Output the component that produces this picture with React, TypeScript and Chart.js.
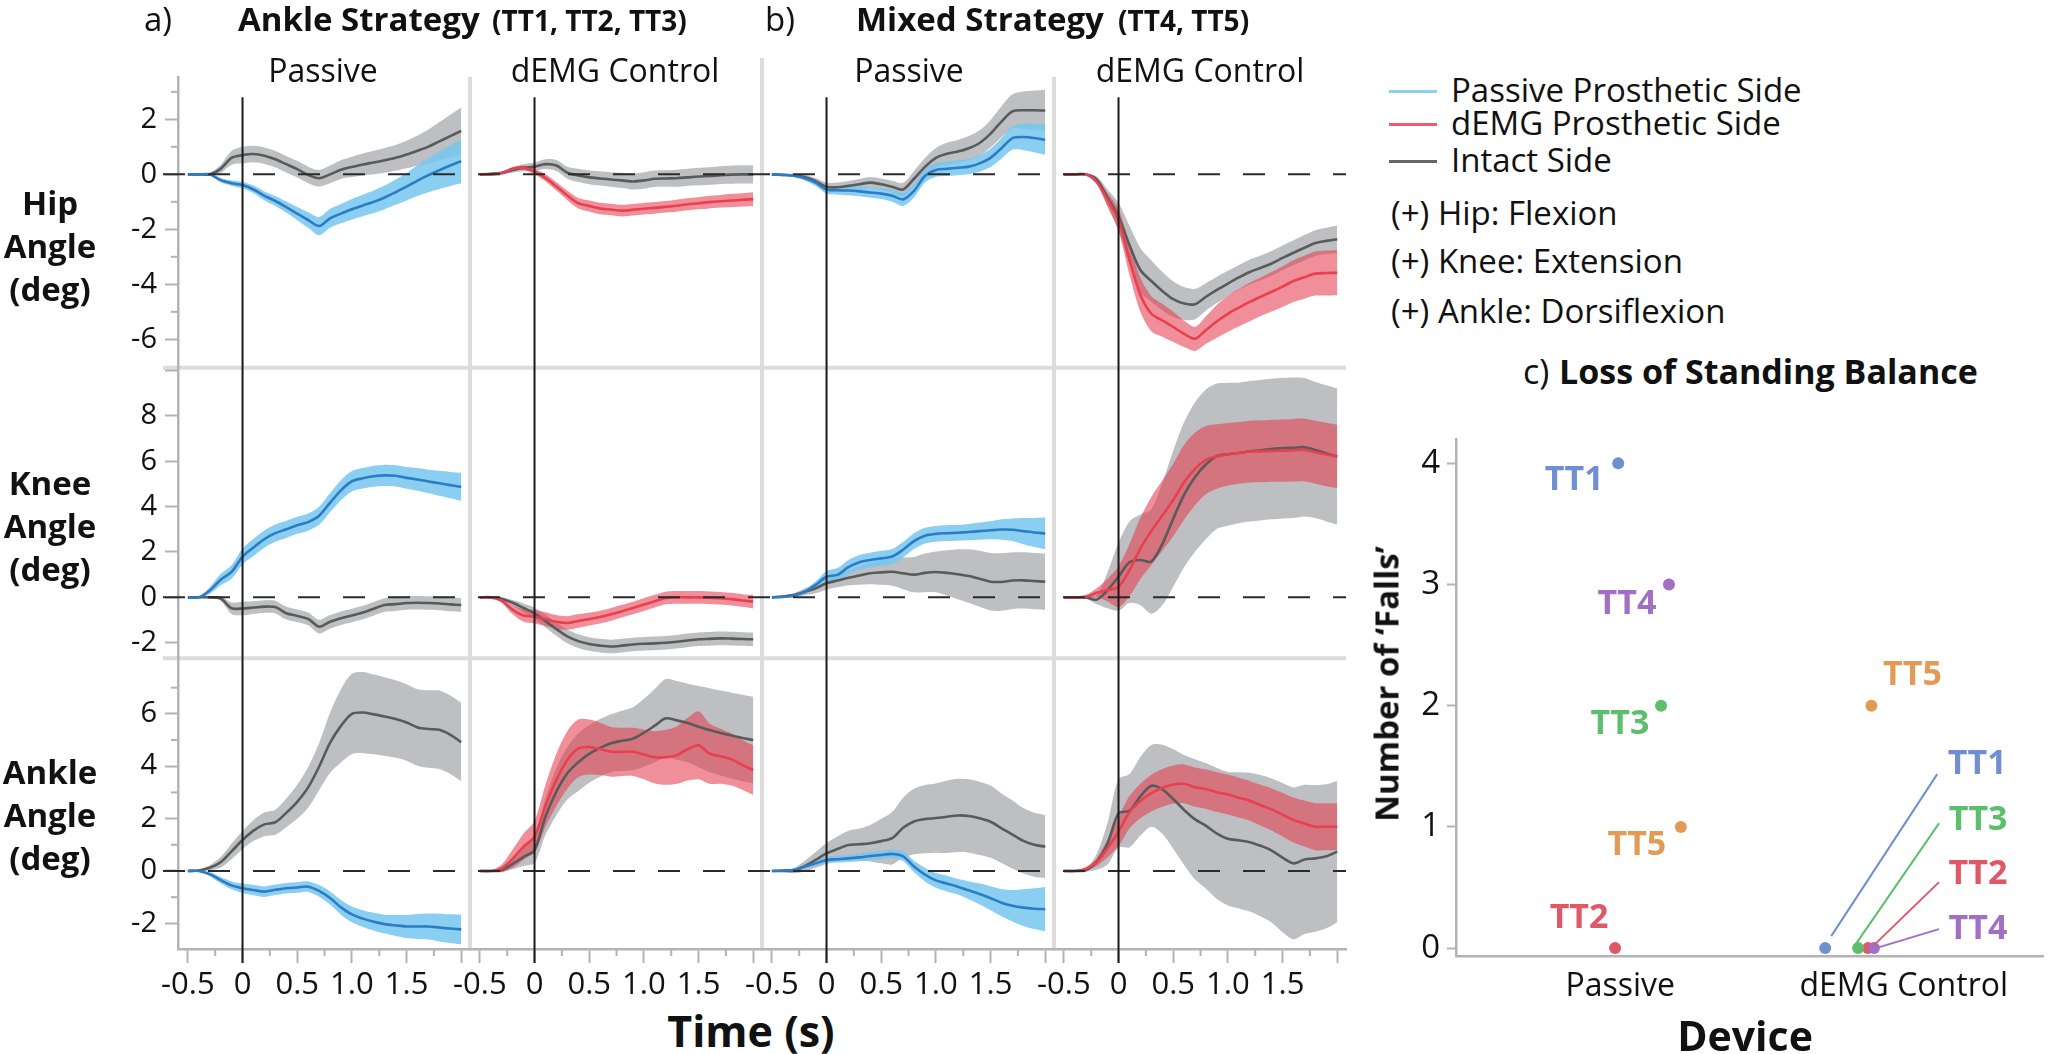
import React, { useEffect, useRef } from "react";
import { Chart, registerables } from "chart.js";

Chart.register(...registerables);

const FONT = "'Open Sans', 'Noto Sans', 'DejaVu Sans', sans-serif";

// ---------------- time grid & axis ticks ----------------
const TIME = [-0.5, -0.4, -0.3, -0.2, -0.1, 0, 0.1, 0.2, 0.3, 0.4, 0.5, 0.6, 0.7, 0.8, 0.9, 1.0, 1.1, 1.2, 1.3, 1.4, 1.5, 1.6, 1.7, 1.8, 1.9, 2.0];
const X_TICKS = [-0.5, -0.25, 0, 0.25, 0.5, 0.75, 1, 1.25, 1.5, 1.75, 2];
const X_TICK_LABELS = ["-0.5", "", "0", "", "0.5", "", "1.0", "", "1.5", "", ""];

const HIP_TICKS = [-6, -5, -4, -3, -2, -1, 0, 1, 2, 3];
const HIP_TICK_LABELS = ["-6", "", "-4", "", "-2", "", "0", "", "2", ""];
const KNEE_TICKS = [-2, 0, 2, 4, 6, 8, 10];
const KNEE_TICK_LABELS = ["-2", "0", "2", "4", "6", "8", ""];
const ANKLE_TICKS = [-2, -1, 0, 1, 2, 3, 4, 5, 6, 7];
const ANKLE_TICK_LABELS = ["-2", "", "0", "", "2", "", "4", "", "6", ""];

// ---------------- Hip ----------------
const HIP_AS_P_PROS = [0, 0, 0, -0.21, -0.32, -0.39, -0.55, -0.78, -0.97, -1.19, -1.43, -1.66, -1.88, -1.6, -1.43, -1.27, -1.13, -1.0, -0.84, -0.65, -0.45, -0.23, -0.03, 0.15, 0.32, 0.48];
const HIP_AS_P_PROS_SD = [0.02, 0.02, 0.03, 0.08, 0.1, 0.12, 0.14, 0.16, 0.18, 0.2, 0.24, 0.28, 0.33, 0.34, 0.35, 0.37, 0.39, 0.41, 0.43, 0.46, 0.5, 0.56, 0.62, 0.68, 0.74, 0.8];
const HIP_AS_P_INT = [0, 0, 0, 0.2, 0.6, 0.7, 0.74, 0.68, 0.55, 0.37, 0.19, -0.02, -0.14, 0, 0.17, 0.27, 0.36, 0.43, 0.51, 0.6, 0.72, 0.86, 1.01, 1.2, 1.39, 1.58];
const HIP_AS_P_INT_SD = [0.02, 0.02, 0.05, 0.15, 0.25, 0.3, 0.3, 0.3, 0.3, 0.3, 0.3, 0.3, 0.3, 0.32, 0.34, 0.37, 0.4, 0.43, 0.45, 0.47, 0.5, 0.55, 0.62, 0.7, 0.78, 0.85];

const HIP_AS_D_PROS = [0, 0, 0.05, 0.2, 0.24, 0.1, -0.13, -0.44, -0.77, -1.05, -1.15, -1.24, -1.28, -1.32, -1.29, -1.25, -1.22, -1.18, -1.14, -1.09, -1.05, -1.01, -0.98, -0.95, -0.93, -0.9];
const HIP_AS_D_PROS_SD = [0.02, 0.02, 0.04, 0.06, 0.08, 0.1, 0.13, 0.15, 0.17, 0.19, 0.2, 0.21, 0.21, 0.21, 0.21, 0.21, 0.21, 0.21, 0.22, 0.22, 0.22, 0.23, 0.23, 0.24, 0.24, 0.25];
const HIP_AS_D_INT = [0, 0.02, 0.05, 0.16, 0.24, 0.28, 0.37, 0.32, 0.06, -0.04, -0.11, -0.15, -0.19, -0.22, -0.26, -0.22, -0.16, -0.15, -0.14, -0.11, -0.08, -0.06, -0.03, -0.01, 0, 0];
const HIP_AS_D_INT_SD = [0.02, 0.04, 0.06, 0.1, 0.13, 0.15, 0.18, 0.2, 0.22, 0.24, 0.25, 0.26, 0.27, 0.28, 0.29, 0.3, 0.3, 0.3, 0.31, 0.31, 0.32, 0.32, 0.32, 0.33, 0.33, 0.33];

const HIP_MS_P_PROS = [0, -0.02, -0.05, -0.14, -0.3, -0.55, -0.58, -0.59, -0.62, -0.66, -0.7, -0.78, -0.91, -0.6, -0.06, 0.16, 0.2, 0.24, 0.28, 0.4, 0.6, 0.95, 1.32, 1.36, 1.32, 1.25];
const HIP_MS_P_PROS_SD = [0.02, 0.03, 0.05, 0.08, 0.12, 0.15, 0.16, 0.17, 0.18, 0.19, 0.2, 0.22, 0.24, 0.24, 0.24, 0.25, 0.26, 0.27, 0.28, 0.3, 0.33, 0.38, 0.43, 0.48, 0.52, 0.55];
const HIP_MS_P_INT = [0, -0.02, -0.04, -0.1, -0.25, -0.45, -0.47, -0.42, -0.36, -0.3, -0.36, -0.45, -0.55, -0.16, 0.27, 0.6, 0.75, 0.83, 0.95, 1.14, 1.48, 1.92, 2.29, 2.33, 2.33, 2.32];
const HIP_MS_P_INT_SD = [0.02, 0.03, 0.05, 0.08, 0.12, 0.15, 0.17, 0.18, 0.19, 0.2, 0.21, 0.22, 0.24, 0.28, 0.32, 0.36, 0.4, 0.42, 0.44, 0.46, 0.5, 0.56, 0.62, 0.68, 0.72, 0.75];

const HIP_MS_D_PROS = [0, 0, 0, -0.27, -0.93, -1.66, -3.1, -4.38, -5.07, -5.31, -5.55, -5.8, -5.98, -5.66, -5.34, -5.07, -4.85, -4.64, -4.45, -4.27, -4.08, -3.88, -3.74, -3.61, -3.59, -3.58];
const HIP_MS_D_PROS_SD = [0.02, 0.02, 0.03, 0.1, 0.25, 0.4, 0.55, 0.62, 0.64, 0.6, 0.55, 0.48, 0.44, 0.5, 0.6, 0.65, 0.68, 0.7, 0.7, 0.72, 0.74, 0.76, 0.78, 0.8, 0.82, 0.82];
const HIP_MS_D_INT = [0, 0, 0, -0.18, -0.85, -1.54, -2.57, -3.48, -3.88, -4.24, -4.54, -4.7, -4.72, -4.45, -4.2, -3.97, -3.75, -3.55, -3.4, -3.24, -3.04, -2.85, -2.67, -2.5, -2.42, -2.36];
const HIP_MS_D_INT_SD = [0.02, 0.02, 0.03, 0.1, 0.3, 0.5, 0.7, 0.8, 0.75, 0.7, 0.65, 0.6, 0.55, 0.5, 0.48, 0.46, 0.45, 0.45, 0.45, 0.45, 0.45, 0.45, 0.46, 0.47, 0.48, 0.5];

// ---------------- Knee ----------------
const KNEE_AS_P_PROS = [0, 0, 0.3, 0.78, 1.12, 1.8, 2.2, 2.57, 2.83, 3.0, 3.18, 3.32, 3.6, 4.17, 4.72, 5.12, 5.25, 5.34, 5.38, 5.36, 5.27, 5.2, 5.11, 5.03, 4.95, 4.87];
const KNEE_AS_P_PROS_SD = [0.02, 0.03, 0.15, 0.25, 0.3, 0.35, 0.38, 0.38, 0.38, 0.38, 0.38, 0.38, 0.4, 0.42, 0.44, 0.45, 0.45, 0.46, 0.47, 0.47, 0.48, 0.5, 0.52, 0.55, 0.58, 0.62];
const KNEE_AS_P_INT = [0, 0, 0, -0.05, -0.48, -0.49, -0.45, -0.41, -0.43, -0.7, -0.82, -0.95, -1.29, -1.08, -0.92, -0.8, -0.67, -0.5, -0.34, -0.3, -0.25, -0.24, -0.25, -0.27, -0.31, -0.34];
const KNEE_AS_P_INT_SD = [0.02, 0.02, 0.03, 0.1, 0.25, 0.3, 0.28, 0.28, 0.28, 0.28, 0.28, 0.28, 0.3, 0.3, 0.3, 0.3, 0.3, 0.3, 0.3, 0.3, 0.3, 0.3, 0.3, 0.3, 0.3, 0.3];

const KNEE_AS_D_PROS = [0, 0, -0.15, -0.55, -0.8, -0.85, -0.96, -1.08, -1.13, -1.04, -0.96, -0.87, -0.75, -0.61, -0.47, -0.32, -0.17, -0.03, 0, 0, 0, -0.02, -0.04, -0.08, -0.14, -0.19];
const KNEE_AS_D_PROS_SD = [0.02, 0.02, 0.1, 0.2, 0.28, 0.3, 0.3, 0.3, 0.3, 0.3, 0.28, 0.28, 0.28, 0.28, 0.28, 0.28, 0.28, 0.28, 0.28, 0.28, 0.28, 0.28, 0.28, 0.28, 0.28, 0.3];
const KNEE_AS_D_INT = [0, 0, -0.06, -0.24, -0.47, -0.71, -1.05, -1.4, -1.72, -1.93, -2.06, -2.13, -2.17, -2.13, -2.08, -2.05, -2.03, -2.0, -1.96, -1.9, -1.85, -1.83, -1.81, -1.82, -1.84, -1.85];
const KNEE_AS_D_INT_SD = [0.02, 0.02, 0.05, 0.12, 0.2, 0.25, 0.28, 0.3, 0.3, 0.3, 0.3, 0.3, 0.3, 0.3, 0.3, 0.3, 0.3, 0.3, 0.3, 0.3, 0.3, 0.3, 0.3, 0.3, 0.3, 0.3];

const KNEE_MS_P_PROS = [0, 0.02, 0.07, 0.25, 0.55, 0.91, 0.99, 1.33, 1.55, 1.65, 1.72, 1.8, 2.1, 2.48, 2.72, 2.8, 2.83, 2.85, 2.88, 2.92, 2.96, 2.99, 2.98, 2.92, 2.86, 2.82];
const KNEE_MS_P_PROS_SD = [0.02, 0.03, 0.05, 0.1, 0.15, 0.25, 0.3, 0.32, 0.32, 0.32, 0.33, 0.33, 0.34, 0.35, 0.35, 0.35, 0.35, 0.35, 0.36, 0.38, 0.4, 0.45, 0.5, 0.58, 0.64, 0.7];
const KNEE_MS_P_INT = [0, 0.04, 0.1, 0.24, 0.4, 0.62, 0.74, 0.86, 0.96, 1.06, 1.1, 1.13, 1.06, 1.0, 1.08, 1.12, 1.08, 1.02, 0.94, 0.82, 0.69, 0.68, 0.74, 0.75, 0.72, 0.69];
const KNEE_MS_P_INT_SD = [0.02, 0.04, 0.08, 0.15, 0.22, 0.28, 0.3, 0.33, 0.4, 0.48, 0.55, 0.62, 0.7, 0.78, 0.85, 0.9, 1.0, 1.1, 1.18, 1.24, 1.27, 1.27, 1.25, 1.24, 1.24, 1.24];

const KNEE_MS_D_PROS = [0, 0, 0.02, 0.2, 0.32, 0.47, 1.2, 2.16, 2.93, 3.6, 4.29, 5.08, 5.67, 6.06, 6.21, 6.31, 6.37, 6.43, 6.44, 6.46, 6.47, 6.49, 6.5, 6.4, 6.3, 6.21];
const KNEE_MS_D_PROS_SD = [0.02, 0.02, 0.08, 0.2, 0.5, 0.9, 1.15, 1.35, 1.5, 1.55, 1.6, 1.65, 1.6, 1.5, 1.42, 1.38, 1.36, 1.36, 1.36, 1.36, 1.37, 1.38, 1.38, 1.39, 1.4, 1.4];
const KNEE_MS_D_INT = [0, 0, 0, -0.1, 0.32, 0.91, 1.55, 1.65, 1.58, 2.35, 3.47, 4.53, 5.31, 5.87, 6.23, 6.31, 6.37, 6.44, 6.49, 6.54, 6.58, 6.6, 6.62, 6.5, 6.35, 6.21];
const KNEE_MS_D_INT_SD = [0.02, 0.02, 0.05, 0.2, 0.8, 1.5, 1.8, 2.0, 2.3, 2.7, 3.0, 3.2, 3.3, 3.3, 3.2, 3.15, 3.1, 3.1, 3.1, 3.1, 3.1, 3.1, 3.05, 3.0, 3.0, 3.0];

// ---------------- Ankle ----------------
const ANK_AS_P_PROS = [0, 0, -0.12, -0.35, -0.55, -0.66, -0.73, -0.79, -0.72, -0.66, -0.63, -0.6, -0.76, -1.03, -1.39, -1.66, -1.82, -1.94, -2.03, -2.08, -2.12, -2.12, -2.12, -2.16, -2.2, -2.23];
const ANK_AS_P_PROS_SD = [0.02, 0.03, 0.08, 0.12, 0.15, 0.18, 0.2, 0.2, 0.2, 0.2, 0.2, 0.2, 0.22, 0.25, 0.28, 0.3, 0.32, 0.34, 0.36, 0.4, 0.44, 0.48, 0.5, 0.53, 0.55, 0.57];
const ANK_AS_P_INT = [0, 0.02, 0.12, 0.33, 0.75, 1.18, 1.54, 1.78, 1.86, 2.22, 2.64, 3.19, 3.98, 4.89, 5.54, 6.0, 6.05, 5.98, 5.9, 5.8, 5.67, 5.48, 5.42, 5.39, 5.2, 4.92];
const ANK_AS_P_INT_SD = [0.02, 0.03, 0.1, 0.2, 0.3, 0.35, 0.4, 0.45, 0.48, 0.55, 0.65, 0.78, 0.9, 1.15, 1.4, 1.53, 1.55, 1.52, 1.5, 1.48, 1.46, 1.46, 1.48, 1.5, 1.5, 1.5];

const ANK_AS_D_PROS = [0, 0, 0.1, 0.47, 0.93, 1.31, 2.49, 3.48, 4.24, 4.68, 4.73, 4.66, 4.55, 4.55, 4.55, 4.45, 4.34, 4.34, 4.42, 4.65, 4.8, 4.48, 4.38, 4.26, 4.05, 3.85];
const ANK_AS_D_PROS_SD = [0.02, 0.02, 0.15, 0.35, 0.5, 0.6, 0.8, 1.0, 1.1, 1.1, 1.05, 1.0, 0.95, 0.92, 0.92, 0.95, 1.0, 1.05, 1.1, 1.2, 1.3, 1.15, 1.05, 1.0, 0.95, 0.95];
const ANK_AS_D_INT = [0, 0, 0.03, 0.27, 0.54, 0.8, 2.08, 3.03, 3.73, 4.15, 4.47, 4.7, 4.88, 4.97, 5.05, 5.28, 5.55, 5.83, 5.75, 5.65, 5.51, 5.38, 5.27, 5.17, 5.08, 5.0];
const ANK_AS_D_INT_SD = [0.02, 0.02, 0.05, 0.2, 0.35, 0.5, 0.7, 0.9, 1.0, 1.1, 1.1, 1.1, 1.1, 1.15, 1.2, 1.3, 1.4, 1.5, 1.5, 1.5, 1.55, 1.6, 1.62, 1.64, 1.65, 1.65];

const ANK_MS_P_PROS = [0, 0.02, 0.04, 0.17, 0.29, 0.42, 0.45, 0.48, 0.52, 0.57, 0.61, 0.65, 0.56, 0.17, -0.14, -0.36, -0.48, -0.6, -0.74, -0.88, -1.04, -1.21, -1.33, -1.4, -1.44, -1.46];
const ANK_MS_P_PROS_SD = [0.02, 0.03, 0.05, 0.08, 0.1, 0.12, 0.13, 0.14, 0.15, 0.15, 0.15, 0.16, 0.18, 0.22, 0.26, 0.28, 0.3, 0.3, 0.34, 0.4, 0.46, 0.52, 0.6, 0.7, 0.78, 0.85];
const ANK_MS_P_INT = [0, 0, 0.01, 0.18, 0.42, 0.67, 0.84, 0.99, 1.02, 1.06, 1.14, 1.25, 1.65, 1.89, 1.98, 2.02, 2.07, 2.12, 2.1, 2.01, 1.88, 1.63, 1.39, 1.15, 1.0, 0.93];
const ANK_MS_P_INT_SD = [0.02, 0.03, 0.1, 0.2, 0.3, 0.4, 0.48, 0.55, 0.6, 0.7, 0.85, 1.0, 1.15, 1.25, 1.3, 1.32, 1.38, 1.4, 1.4, 1.4, 1.38, 1.33, 1.3, 1.25, 1.22, 1.2];

const ANK_MS_D_PROS = [0, 0, 0.08, 0.34, 0.87, 1.5, 2.24, 2.67, 2.97, 3.17, 3.3, 3.33, 3.2, 3.12, 3.01, 2.92, 2.8, 2.68, 2.51, 2.35, 2.15, 1.95, 1.81, 1.69, 1.69, 1.69];
const ANK_MS_D_PROS_SD = [0.02, 0.02, 0.06, 0.15, 0.35, 0.55, 0.62, 0.66, 0.7, 0.72, 0.73, 0.74, 0.75, 0.75, 0.76, 0.76, 0.76, 0.76, 0.78, 0.8, 0.83, 0.86, 0.88, 0.9, 0.9, 0.9];
const ANK_MS_D_INT = [0, 0, 0.03, 0.35, 1.05, 2.2, 2.3, 2.85, 3.25, 3.12, 2.75, 2.33, 1.97, 1.72, 1.43, 1.23, 1.17, 1.1, 0.96, 0.78, 0.51, 0.29, 0.44, 0.48, 0.56, 0.74];
const ANK_MS_D_INT_SD = [0.02, 0.02, 0.05, 0.3, 0.8, 1.3, 1.4, 1.5, 1.56, 1.7, 1.9, 2.1, 2.3, 2.4, 2.5, 2.55, 2.6, 2.65, 2.7, 2.75, 2.85, 2.9, 2.85, 2.8, 2.75, 2.7];

// ---------------- Panel c: falls ----------------
const SUBJECTS = ["TT1", "TT2", "TT3", "TT4", "TT5"];
const DEVICES = ["Passive", "dEMG Control"];
const PASSIVE_FALLS = [4, 0, 2, 3, 1];
const DEMG_FALLS = [0, 0, 0, 0, 2];
const PASSIVE_JITTER = [-0.007, -0.018, 0.144, 0.172, 0.214];
const DEMG_JITTER = [0.723, 0.874, 0.839, 0.895, 0.886];

// ---------------- styles ----------------
const BLUE_LINE = "#2c7cc5";
const BLUE_BAND = "rgba(118,199,240,0.85)";
const RED_LINE = "#e8404f";
const RED_BAND = "rgba(230,62,80,0.58)";
const GREY_LINE = "#5a5a5a";
const GREY_BAND = "rgb(189,191,194)";
const AXIS = "#b3b3b3";
const SEP = "#dcdcdc";
const SUBJECT_COLORS = ["#6f8fd0", "#e05868", "#5cbf6b", "#a36fc2", "#e39a55"];

// label placement for panel c (pixel offsets from point)
const PASSIVE_LABEL_OFFSET = [[-44, 17], [-36, -30], [-41, 19], [-42, 20], [-44, 18]];
const DEMG_LABEL_OFFSET = [[152, -184], [110, -74], [120, -128], [104, -19], [41, -30]];
const DEMG_LEADER = [[[6, -12], [112, -174]], [[6, -3], [71, -66]], [[-3, -3], [81, -125]], [[2, 0], [65, -19]], null];

const COL_IDS = ["xa", "xb", "xc", "xd"];
const X_MIN = -0.59;
const X_MAX = 2.08;

const isHalfStep = (v: number) => Math.abs(v * 2 - Math.round(v * 2)) < 1e-9;
const isEven = (v: number) => Math.abs(v / 2 - Math.round(v / 2)) < 1e-9;

const ROWS = [
  { id: "yHip", min: -7.03, max: 3.54, ticks: HIP_TICKS, labels: HIP_TICK_LABELS, major: isEven, weight: 3 },
  { id: "yKnee", min: -2.69, max: 10.13, ticks: KNEE_TICKS, labels: KNEE_TICK_LABELS, major: (_v: number) => true, weight: 2 },
  { id: "yAnkle", min: -2.98, max: 8.12, ticks: ANKLE_TICKS, labels: ANKLE_TICK_LABELS, major: isEven, weight: 1 },
];

const PANELS = [
  { row: 0, col: 0, demg: false, pros: HIP_AS_P_PROS, prosSd: HIP_AS_P_PROS_SD, int: HIP_AS_P_INT, intSd: HIP_AS_P_INT_SD },
  { row: 0, col: 1, demg: true, pros: HIP_AS_D_PROS, prosSd: HIP_AS_D_PROS_SD, int: HIP_AS_D_INT, intSd: HIP_AS_D_INT_SD },
  { row: 0, col: 2, demg: false, pros: HIP_MS_P_PROS, prosSd: HIP_MS_P_PROS_SD, int: HIP_MS_P_INT, intSd: HIP_MS_P_INT_SD },
  { row: 0, col: 3, demg: true, pros: HIP_MS_D_PROS, prosSd: HIP_MS_D_PROS_SD, int: HIP_MS_D_INT, intSd: HIP_MS_D_INT_SD },
  { row: 1, col: 0, demg: false, pros: KNEE_AS_P_PROS, prosSd: KNEE_AS_P_PROS_SD, int: KNEE_AS_P_INT, intSd: KNEE_AS_P_INT_SD },
  { row: 1, col: 1, demg: true, pros: KNEE_AS_D_PROS, prosSd: KNEE_AS_D_PROS_SD, int: KNEE_AS_D_INT, intSd: KNEE_AS_D_INT_SD },
  { row: 1, col: 2, demg: false, pros: KNEE_MS_P_PROS, prosSd: KNEE_MS_P_PROS_SD, int: KNEE_MS_P_INT, intSd: KNEE_MS_P_INT_SD },
  { row: 1, col: 3, demg: true, pros: KNEE_MS_D_PROS, prosSd: KNEE_MS_D_PROS_SD, int: KNEE_MS_D_INT, intSd: KNEE_MS_D_INT_SD },
  { row: 2, col: 0, demg: false, pros: ANK_AS_P_PROS, prosSd: ANK_AS_P_PROS_SD, int: ANK_AS_P_INT, intSd: ANK_AS_P_INT_SD },
  { row: 2, col: 1, demg: true, pros: ANK_AS_D_PROS, prosSd: ANK_AS_D_PROS_SD, int: ANK_AS_D_INT, intSd: ANK_AS_D_INT_SD },
  { row: 2, col: 2, demg: false, pros: ANK_MS_P_PROS, prosSd: ANK_MS_P_PROS_SD, int: ANK_MS_P_INT, intSd: ANK_MS_P_INT_SD },
  { row: 2, col: 3, demg: true, pros: ANK_MS_D_PROS, prosSd: ANK_MS_D_PROS_SD, int: ANK_MS_D_INT, intSd: ANK_MS_D_INT_SD },
];

const bandPoints = (mean: number[], sd: number[], sign: number) => TIME.map((t, i) => ({ x: t, y: mean[i] + sign * sd[i] }));
const linePoints = (mean: number[]) => TIME.map((t, i) => ({ x: t, y: mean[i] }));

function buildDatasets() {
  const ds: any[] = [];
  PANELS.forEach((p) => {
    const base = {
      xAxisID: COL_IDS[p.col],
      yAxisID: ROWS[p.row].id,
      pointRadius: 0,
      pointHoverRadius: 0,
      tension: 0.3,
      borderWidth: 0,
      borderColor: "rgba(0,0,0,0)",
    };
    ds.push({ ...base, data: bandPoints(p.int, p.intSd, 1), fill: "+1", backgroundColor: GREY_BAND, order: 3 });
    ds.push({ ...base, data: bandPoints(p.int, p.intSd, -1), fill: false, order: 3 });
    ds.push({ ...base, data: bandPoints(p.pros, p.prosSd, 1), fill: "+1", backgroundColor: p.demg ? RED_BAND : BLUE_BAND, order: 2 });
    ds.push({ ...base, data: bandPoints(p.pros, p.prosSd, -1), fill: false, order: 2 });
    ds.push({ ...base, data: linePoints(p.int), fill: false, borderColor: GREY_LINE, borderWidth: 2.6, order: 1 });
    ds.push({ ...base, data: linePoints(p.pros), fill: false, borderColor: p.demg ? RED_LINE : BLUE_LINE, borderWidth: 2.6, order: 0 });
  });
  return ds;
}

function strokeLine(ctx: CanvasRenderingContext2D, x1: number, y1: number, x2: number, y2: number) {
  ctx.beginPath();
  ctx.moveTo(x1, y1);
  ctx.lineTo(x2, y2);
  ctx.stroke();
}

const decorPlugin = {
  id: "decor",
  beforeDraw(chart: any) {
    const { ctx, chartArea, scales } = chart;
    ctx.save();
    ctx.strokeStyle = SEP;
    ctx.lineWidth = 4;
    ["xb", "xc", "xd"].forEach((id) => {
      const x = scales[id].left;
      const top = id === "xc" ? chartArea.top - 19 : chartArea.top;
      strokeLine(ctx, x, top, x, chartArea.bottom);
    });
    ["yKnee", "yAnkle"].forEach((id) => {
      const y = scales[id].top;
      strokeLine(ctx, 163, y, chartArea.right, y);
    });
    ctx.restore();
  },
  afterDatasetsDraw(chart: any) {
    const { ctx, chartArea, scales } = chart;
    ctx.save();
    ctx.strokeStyle = "#2a2a2a";
    ctx.lineWidth = 2;
    ctx.setLineDash([22, 23]);
    ROWS.forEach((r) => {
      const y = scales[r.id].getPixelForValue(0);
      strokeLine(ctx, 163, y, chartArea.right, y);
    });
    ctx.setLineDash([]);
    ctx.strokeStyle = "#1a1a1a";
    const topY = scales.yHip.getPixelForValue(2.8);
    COL_IDS.forEach((id) => {
      const x = scales[id].getPixelForValue(0);
      strokeLine(ctx, x, topY, x, chartArea.bottom + 14);
    });
    ctx.restore();
  },
  afterDraw(chart: any) {
    const { ctx, scales } = chart;
    ctx.save();
    ctx.strokeStyle = AXIS;
    ctx.lineWidth = 2;
    COL_IDS.forEach((id) => {
      const s = scales[id];
      X_TICKS.forEach((v) => {
        if (!isHalfStep(v)) {
          const x = s.getPixelForValue(v);
          strokeLine(ctx, x, s.top, x, s.top + 7);
        }
      });
    });
    ROWS.forEach((r) => {
      const s = scales[r.id];
      r.ticks.forEach((v) => {
        if (!r.major(v)) {
          const y = s.getPixelForValue(v);
          strokeLine(ctx, s.right - 7, y, s.right, y);
        }
      });
    });
    ctx.restore();
  },
};

function buildScales() {
  const scales: any = {};
  COL_IDS.forEach((id, i) => {
    scales[id] = {
      type: "linear",
      position: "bottom",
      stack: "time",
      stackWeight: 1,
      weight: i,
      min: X_MIN,
      max: X_MAX,
      bounds: "data",
      afterBuildTicks: (s: any) => {
        s.ticks = X_TICKS.map((v) => ({ value: v }));
      },
      afterFit: (s: any) => {
        s.height = 51;
      },
      ticks: {
        autoSkip: false,
        maxRotation: 0,
        minRotation: 0,
        padding: 4,
        color: "#111",
        font: { size: 31, family: FONT },
        callback: (_v: any, idx: number) => X_TICK_LABELS[idx],
      },
      grid: {
        drawOnChartArea: false,
        drawTicks: true,
        tickLength: 14,
        tickWidth: 2,
        tickColor: (c: any) => (c.tick && isHalfStep(c.tick.value) ? AXIS : "rgba(0,0,0,0)"),
      },
      border: { display: true, color: AXIS, width: 2.5 },
    };
  });
  ROWS.forEach((r) => {
    scales[r.id] = {
      type: "linear",
      position: "left",
      stack: "rows",
      stackWeight: 1,
      weight: r.weight,
      min: r.min,
      max: r.max,
      bounds: "data",
      afterBuildTicks: (s: any) => {
        s.ticks = r.ticks.map((v) => ({ value: v }));
      },
      afterFit: (s: any) => {
        s.width = 178;
      },
      ticks: {
        autoSkip: false,
        padding: 8,
        color: "#111",
        font: { size: 29, family: FONT },
        callback: (_v: any, idx: number) => r.labels[idx],
      },
      grid: {
        drawOnChartArea: false,
        drawTicks: true,
        tickLength: 13,
        tickWidth: 2,
        tickColor: (c: any) => (c.tick && r.major(c.tick.value) ? AXIS : "rgba(0,0,0,0)"),
      },
      border: { display: true, color: AXIS, width: 2.5 },
    };
  });
  return scales;
}

function MainChart() {
  const ref = useRef<HTMLCanvasElement>(null);
  useEffect(() => {
    const chart = new Chart(ref.current as HTMLCanvasElement, {
      type: "line",
      data: { datasets: buildDatasets() },
      options: {
        responsive: false,
        maintainAspectRatio: false,
        animation: false,
        devicePixelRatio: 1,
        events: [],
        layout: { padding: { top: 77, right: 4, bottom: 0, left: 0 } },
        plugins: { legend: { display: false }, tooltip: { enabled: false } },
        scales: buildScales(),
      } as any,
      plugins: [decorPlugin as any],
    });
    return () => chart.destroy();
  }, []);
  return <canvas ref={ref} width={1350} height={1000} style={{ position: "absolute", left: 0, top: 0, width: 1350, height: 1000 }} />;
}

const fallsLabelPlugin = {
  id: "fallsLabels",
  afterDatasetsDraw(chart: any) {
    const { ctx } = chart;
    ctx.save();
    ctx.font = `700 34px ${FONT}`;
    ctx.textAlign = "center";
    ctx.textBaseline = "middle";
    ctx.lineWidth = 2;
    SUBJECTS.forEach((name, i) => {
      const meta = chart.getDatasetMeta(i);
      const color = SUBJECT_COLORS[i];
      ctx.fillStyle = color;
      ctx.strokeStyle = color;
      const pPt = meta.data[0];
      const dPt = meta.data[1];
      const po = PASSIVE_LABEL_OFFSET[i];
      ctx.fillText(name, pPt.x + po[0], pPt.y + po[1]);
      const leader = DEMG_LEADER[i];
      if (leader) {
        strokeLine(ctx, dPt.x + leader[0][0], dPt.y + leader[0][1], dPt.x + leader[1][0], dPt.y + leader[1][1]);
      }
      const dOff = DEMG_LABEL_OFFSET[i];
      ctx.fillText(name, dPt.x + dOff[0], dPt.y + dOff[1]);
    });
    ctx.restore();
  },
};

function FallsChart() {
  const ref = useRef<HTMLCanvasElement>(null);
  useEffect(() => {
    const datasets = SUBJECTS.map((name, i) => ({
      label: name,
      data: [
        { x: PASSIVE_JITTER[i], y: PASSIVE_FALLS[i] },
        { x: DEMG_JITTER[i], y: DEMG_FALLS[i] },
      ],
      backgroundColor: SUBJECT_COLORS[i],
      borderWidth: 0,
      pointRadius: 6,
      pointHoverRadius: 6,
      order: 4 - i,
    }));
    const chart = new Chart(ref.current as HTMLCanvasElement, {
      type: "scatter",
      data: { datasets },
      options: {
        responsive: false,
        maintainAspectRatio: false,
        animation: false,
        devicePixelRatio: 1,
        events: [],
        layout: { padding: { top: 39, right: 3, bottom: 0, left: 0 } },
        plugins: { legend: { display: false }, tooltip: { enabled: false } },
        scales: {
          x: {
            type: "linear",
            min: -0.579,
            max: 1.491,
            bounds: "data",
            afterBuildTicks: (s: any) => {
              s.ticks = DEVICES.map((_d, i) => ({ value: i }));
            },
            afterFit: (s: any) => {
              s.height = 98;
            },
            ticks: {
              autoSkip: false,
              maxRotation: 0,
              padding: 12,
              color: "#111",
              font: { size: 32, family: FONT },
              callback: (_v: any, idx: number) => DEVICES[idx],
            },
            grid: { drawOnChartArea: false, drawTicks: false },
            border: { display: true, color: AXIS, width: 2.5 },
          },
          y: {
            type: "linear",
            min: -0.065,
            max: 4.2,
            bounds: "data",
            afterBuildTicks: (s: any) => {
              s.ticks = [0, 1, 2, 3, 4].map((v) => ({ value: v }));
            },
            afterFit: (s: any) => {
              s.width = 116;
            },
            ticks: {
              autoSkip: false,
              padding: 7,
              color: "#111",
              font: { size: 33, family: FONT },
            },
            grid: { drawOnChartArea: false, drawTicks: true, tickLength: 9, tickWidth: 2, tickColor: AXIS },
            border: { display: true, color: AXIS, width: 2.5 },
          },
        },
      } as any,
      plugins: [fallsLabelPlugin as any],
    });
    return () => chart.destroy();
  }, []);
  return <canvas ref={ref} width={709} height={654} style={{ position: "absolute", left: 1340, top: 400, width: 709, height: 654 }} />;
}

function Txt(props: any) {
  const { x, y, size, bold, anchor = "start", color = "#111", rotate, children } = props;
  const tx = anchor === "middle" ? "-50%" : anchor === "end" ? "-100%" : "0";
  return (
    <div
      style={{
        position: "absolute",
        left: x,
        top: y,
        transform: `translate(${tx}, -50%)${rotate ? ` rotate(${rotate}deg)` : ""}`,
        fontFamily: FONT,
        fontSize: size,
        fontWeight: bold ? 700 : 400,
        lineHeight: 1,
        whiteSpace: "nowrap",
        color,
      }}
    >
      {children}
    </div>
  );
}

function RowLabel(props: any) {
  const { cy, lines } = props;
  return (
    <div
      style={{
        position: "absolute",
        left: -10,
        width: 120,
        top: cy - 64.5,
        height: 129,
        textAlign: "center",
        fontFamily: FONT,
        fontWeight: 700,
        fontSize: 33,
        lineHeight: "43px",
        color: "#111",
      }}
    >
      {lines.map((l: string) => (
        <div key={l}>{l}</div>
      ))}
    </div>
  );
}

function Swatch(props: any) {
  return <div style={{ position: "absolute", left: 1389, top: props.y - 1.5, width: 48, height: 3, background: props.color }} />;
}

export default function App() {
  return (
    <div style={{ position: "absolute", left: 0, top: 0, width: 2049, height: 1054, background: "#fff", overflow: "hidden" }}>
      <MainChart />
      <FallsChart />

      <Txt x={144} y={18} size={33}>a)</Txt>
      <Txt x={238} y={18} size={33} bold>Ankle Strategy</Txt>
      <Txt x={492} y={19.5} size={28} bold>(TT1, TT2, TT3)</Txt>
      <Txt x={765} y={18} size={33}>b)</Txt>
      <Txt x={856} y={18} size={33} bold>Mixed Strategy</Txt>
      <Txt x={1118} y={19.5} size={28} bold>(TT4, TT5)</Txt>

      <Txt x={323} y={70} size={32} anchor="middle">Passive</Txt>
      <Txt x={615} y={70} size={32} anchor="middle">dEMG Control</Txt>
      <Txt x={909} y={70} size={32} anchor="middle">Passive</Txt>
      <Txt x={1200} y={70} size={32} anchor="middle">dEMG Control</Txt>

      <RowLabel cy={245} lines={["Hip", "Angle", "(deg)"]} />
      <RowLabel cy={525} lines={["Knee", "Angle", "(deg)"]} />
      <RowLabel cy={814} lines={["Ankle", "Angle", "(deg)"]} />

      <Txt x={751} y={1030} size={43} bold anchor="middle">Time (s)</Txt>

      <Swatch y={91} color="#8ad2f0" />
      <Swatch y={124} color="#f05a6e" />
      <Swatch y={161} color="#666666" />
      <Txt x={1451} y={88.5} size={33}>Passive Prosthetic Side</Txt>
      <Txt x={1451} y={122} size={33}>dEMG Prosthetic Side</Txt>
      <Txt x={1451} y={158.5} size={33}>Intact Side</Txt>
      <Txt x={1391} y={212} size={33}>(+) Hip: Flexion</Txt>
      <Txt x={1391} y={260} size={33}>(+) Knee: Extension</Txt>
      <Txt x={1391} y={310} size={33}>(+) Ankle: Dorsiflexion</Txt>

      <Txt x={1523} y={371} size={34}>c)</Txt>
      <Txt x={1559} y={371} size={34} bold>Loss of Standing Balance</Txt>
      <Txt x={1386} y={684} size={33} bold anchor="middle" rotate={-90}>Number of ‘Falls’</Txt>
      <Txt x={1745} y={1035} size={41} bold anchor="middle">Device</Txt>
    </div>
  );
}
